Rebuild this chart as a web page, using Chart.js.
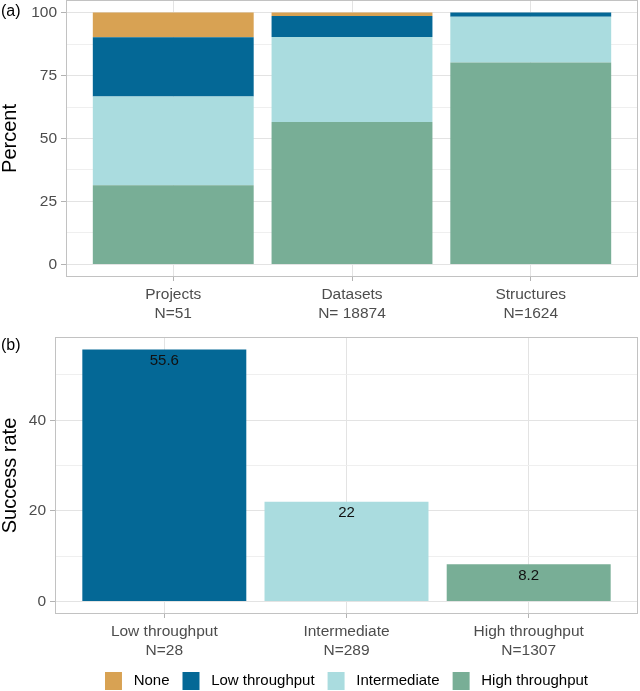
<!DOCTYPE html>
<html><head><meta charset="utf-8">
<script src="https://cdn.jsdelivr.net/npm/chart.js@4"></script>
<style>
html,body{margin:0;padding:0;background:#fff;overflow:hidden;width:640px;height:691px;}
#wrapA{position:absolute;left:0;top:0;width:640px;height:330px;}
#wrapB{position:absolute;left:0;top:330px;width:640px;height:370px;}
canvas{display:block;}
</style></head><body>
<div id="wrapA"><canvas id="chartA" width="640" height="330"></canvas></div>
<div id="wrapB"><canvas id="chartB" width="640" height="370"></canvas></div>
<script>
// ---- data, panel (a) ----
const groupsA = ['Projects', 'Datasets', 'Structures'];
const countsA = ['N=51', 'N= 18874', 'N=1624'];
const throughputLevels = ['None', 'Low throughput', 'Intermediate', 'High throughput'];
const levelColors = ['#d8a253', '#046896', '#aadcdf', '#78ae96'];
const pctNone = [9.8, 1.35, 0];
const pctLow = [23.5, 8.35, 1.7];
const pctIntermediate = [35.3, 33.7, 18.1];
const pctHigh = [31.4, 56.6, 80.2];
const yMajorA = [0, 25, 50, 75, 100];
const yMinorA = [12.5, 37.5, 62.5, 87.5];

// ---- data, panel (b) ----
const groupsB = ['Low throughput', 'Intermediate', 'High throughput'];
const countsB = ['N=28', 'N=289', 'N=1307'];
const successRate = [55.6, 22, 8.2];
const yMajorB = [0, 20, 40];
const yMinorB = [10, 30, 50];

// ---- styles ----
const FONT = "'Liberation Sans', Arial, Helvetica, sans-serif";
const AXIS_TEXT = '#4d4d4d';
const GRID_MAJOR = '#e3e3e3';
const GRID_MINOR = '#efefef';
const TICK_COL = '#b3b3b3';
const BORDER_COL = '#c2c2c2';

const panelBorder = {
  id: 'panelBorder',
  afterDatasetsDraw(chart) {
    const a = chart.chartArea, ctx = chart.ctx;
    ctx.save();
    ctx.strokeStyle = BORDER_COL;
    ctx.lineWidth = 1;
    const l = Math.round(a.left) + 0.5, t = Math.round(a.top) + 0.5;
    const r = Math.round(a.right) - 0.5, b = Math.round(a.bottom) - 0.5;
    ctx.strokeRect(l, t, r - l, b - t);
    ctx.restore();
  }
};
const panelTag = {
  id: 'panelTag',
  afterDraw(chart, args, opts) {
    const ctx = chart.ctx;
    ctx.save();
    ctx.font = '16px ' + FONT;
    ctx.fillStyle = '#000';
    ctx.textBaseline = 'middle';
    ctx.textAlign = 'left';
    ctx.fillText(opts.text, opts.x, opts.y);
    ctx.restore();
  }
};
const barValueLabels = {
  id: 'barValueLabels',
  afterDatasetsDraw(chart, args, opts) {
    if (!opts.show) return;
    const ctx = chart.ctx;
    const meta = chart.getDatasetMeta(0);
    ctx.save();
    ctx.font = '15px ' + FONT;
    ctx.fillStyle = '#111';
    ctx.textAlign = 'center';
    ctx.textBaseline = 'middle';
    meta.data.forEach((el, i) => {
      ctx.fillText(String(successRate[i]), el.x, el.y + 11.5);
    });
    ctx.restore();
  }
};

function yScale(min, max, major, minor, title, width) {
  const isMajor = v => major.includes(v);
  return {
    type: 'linear', min: min, max: max, stacked: true,
    afterBuildTicks: s => { s.ticks = major.concat(minor).sort((p, q) => p - q).map(v => ({value: v})); },
    afterFit: s => { s.width = width; s.paddingTop = 0; s.paddingBottom = 0; },
    border: {display: false},
    grid: {
      color: c => isMajor(c.tick.value) ? GRID_MAJOR : GRID_MINOR,
      lineWidth: 1,
      tickColor: c => isMajor(c.tick.value) ? TICK_COL : 'rgba(0,0,0,0)',
      tickLength: 5
    },
    ticks: {
      padding: 4,
      color: AXIS_TEXT,
      font: {family: FONT, size: 15.5},
      callback: v => isMajor(v) ? String(v) : ''
    },
    title: {display: true, text: title, color: '#000', font: {family: FONT, size: 20, lineHeight: 1}, padding: {top: 0, bottom: 0}}
  };
}
function xScale(names, counts, height) {
  return {
    type: 'linear', min: -0.6, max: 2.6, stacked: true, offset: false,
    afterBuildTicks: s => { s.ticks = names.map((n, i) => ({value: i})); },
    afterFit: s => { s.height = height; s.paddingLeft = 0; s.paddingRight = 0; },
    border: {display: false},
    grid: {color: GRID_MAJOR, lineWidth: 1, tickColor: TICK_COL, tickLength: 4, offset: false},
    ticks: {
      padding: 4.5, maxRotation: 0, autoSkip: false,
      color: AXIS_TEXT,
      font: {family: FONT, size: 15.5, lineHeight: 1.2},
      callback: v => [names[v], counts[v]]
    }
  };
}

// ---- panel (a) ----
const seriesA = [pctHigh, pctIntermediate, pctLow, pctNone];
const colorIdxA = [3, 2, 1, 0];
new Chart(document.getElementById('chartA'), {
  type: 'bar',
  data: {
    datasets: seriesA.map((vals, k) => ({
      label: throughputLevels[colorIdxA[k]],
      data: vals.map((v, i) => ({x: i, y: v})),
      backgroundColor: levelColors[colorIdxA[k]],
      borderWidth: 0,
      barPercentage: 0.9,
      categoryPercentage: 1
    }))
  },
  options: {
    responsive: false, animation: false, devicePixelRatio: 1,
    layout: {padding: {top: 0, right: 2, left: 0, bottom: 0}},
    plugins: {legend: {display: false}, tooltip: {enabled: false},
      panelTag: {text: '(a)', x: 1, y: 12}, barValueLabels: {show: false}},
    scales: {
      x: xScale(groupsA, countsA, 53),
      y: yScale(-5, 105, yMajorA, yMinorA, 'Percent', 66)
    }
  },
  plugins: [panelBorder, panelTag, barValueLabels]
});

// ---- panel (b) ----
const maxB = Math.max(...successRate);
new Chart(document.getElementById('chartB'), {
  type: 'bar',
  data: {
    datasets: [{
      label: 'Success rate',
      data: successRate.map((v, i) => ({x: i, y: v})),
      backgroundColor: groupsB.map(g => levelColors[throughputLevels.indexOf(g)]),
      borderWidth: 0,
      barPercentage: 0.9,
      categoryPercentage: 1
    }]
  },
  options: {
    responsive: false, animation: false, devicePixelRatio: 1,
    layout: {padding: {top: 7, right: 2, left: 0, bottom: 0}},
    plugins: {
      tooltip: {enabled: false},
      panelTag: {text: '(b)', x: 1, y: 16},
      barValueLabels: {show: true},
      legend: {
        display: true, position: 'bottom', fullSize: false,
        labels: {
          boxWidth: 17, boxHeight: 18, padding: 13,
          color: '#111',
          font: {family: FONT, size: 15},
          generateLabels: () => throughputLevels.map((t, i) => ({
            text: ' ' + t, fillStyle: levelColors[i], strokeStyle: levelColors[i], lineWidth: 0, hidden: false, datasetIndex: 0
          }))
        }
      }
    },
    scales: {
      x: xScale(groupsB, countsB, 45),
      y: yScale(-0.05 * maxB, maxB * 1.05, yMajorB, yMinorB, 'Success rate', 55)
    }
  },
  plugins: [panelBorder, panelTag, barValueLabels]
});
</script>
</body></html>
